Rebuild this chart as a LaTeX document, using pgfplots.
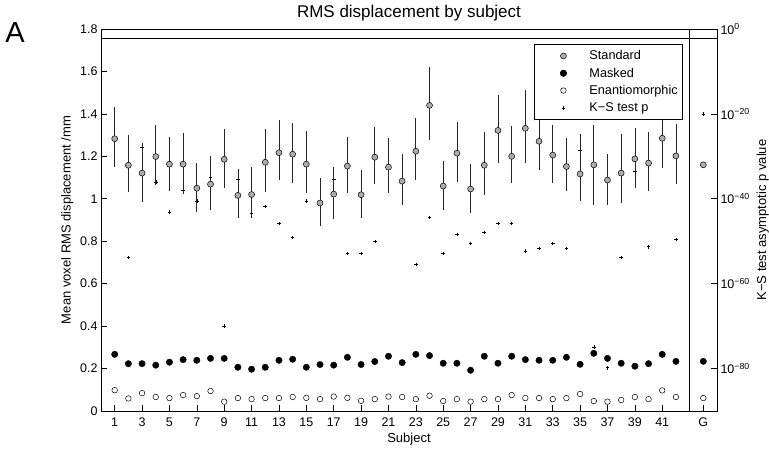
\documentclass[border=0pt]{standalone}
\usepackage{pgfplots}
\pgfplotsset{compat=1.18}
\usepackage{fontspec}
\setmainfont{Liberation Sans}
\definecolor{stdgray}{gray}{0.68}
\begin{document}
\begin{tikzpicture}
\path[use as bounding box] (-101pt,-39pt) rectangle (668pt,411pt);
% right (log) axis with K-S p values
\begin{axis}[
  at={(0pt,0pt)}, anchor=south west, scale only axis,
  width=616pt, height=382pt,
  xmin=0, xmax=45, hide x axis,
  ymode=log, ymin=1e-90, ymax=1,
  axis y line*=right, axis line style={-},
  ytick={1e-80,1e-60,1e-40,1e-20,1},
  yticklabels={10\textsuperscript{−80},10\textsuperscript{−60},10\textsuperscript{−40},10\textsuperscript{−20},10\textsuperscript{0}},
  minor ytick={},
  tick align=inside, major tick length=6pt,
  tick style={black, line width=0.6pt},
  ticklabel style={font=\fontsize{12.5}{14}\selectfont},
  ylabel={K−S test asymptotic p value},
  ylabel style={font=\fontsize{13}{15}\selectfont},
]
\addplot[only marks, mark=+, mark size=1.8pt, black, line width=0.5pt] coordinates {
(1,1.58e-26) (2,1.58e-54) (3,1.26e-28) (4,1e-36) (5,7.94e-44) (6,7.94e-39)
(7,3.16e-41) (8,1e-35) (9,1e-70) (10,3.98e-36) (11,5.01e-44) (12,1.58e-42)
(13,1.58e-46) (14,7.94e-50) (15,3.16e-41) (16,1.26e-41) (17,3.98e-36) (18,1.26e-53)
(19,1.26e-53) (20,7.94e-51) (21,3.98e-33) (22,2.0e-36) (23,3.16e-56) (24,3.98e-45)
(25,1.26e-53) (26,3.98e-49) (27,3.16e-51) (28,1.26e-48) (29,1.58e-46) (30,1.58e-46)
(31,5.01e-53) (32,2.0e-52) (33,3.16e-51) (34,2.0e-52) (35,3.16e-29) (36,1.26e-75)
(37,1.58e-80) (38,1.58e-54) (39,2.51e-34) (40,5.01e-52) (41,2.51e-77) (42,2.51e-50)
(44,1e-20)
};
\end{axis}
% left (linear) axis
\begin{axis}[
  at={(0pt,0pt)}, anchor=south west, scale only axis,
  width=616pt, height=382pt,
  xmin=0, xmax=45, ymin=0, ymax=1.8,
  xtick={1,3,5,7,9,11,13,15,17,19,21,23,25,27,29,31,33,35,37,39,41,44},
  xticklabels={1,3,5,7,9,11,13,15,17,19,21,23,25,27,29,31,33,35,37,39,41,G},
  ytick={0,0.2,0.4,0.6,0.8,1,1.2,1.4,1.6,1.8},
  xtick pos=bottom, ytick pos=left,
  tick align=inside, major tick length=6pt,
  tick style={black, line width=0.6pt},
  axis line style={black, line width=0.6pt},
  /pgf/number format/assume math mode=true,
  ticklabel style={font=\fontsize{12.5}{14}\selectfont},
  xticklabel style={yshift=-3pt},
  xlabel={Subject}, ylabel={Mean voxel RMS displacement /mm},
  label style={font=\fontsize{13}{15}\selectfont},
  title={RMS displacement by subject},
  title style={font=\fontsize{17}{19}\selectfont, yshift=-2pt},
  error bars/error bar style={line width=0.7pt, black!85},
  error bars/error mark=none,
  legend image code/.code={\path[draw=none,fill=none] (-24pt,-8.65pt) rectangle (12pt,8.65pt); \draw[#1] plot coordinates {(0pt,0pt)};},
  legend style={at={(rel axis cs:0.9448,0.9607)}, anchor=north east,
    draw=black, fill=white, line width=0.6pt,
    font=\fontsize{12.7}{14}\selectfont, legend cell align=left,
    inner xsep=5pt, inner ysep=3pt, row sep=0pt,
    nodes={inner sep=0pt},
    /tikz/every odd column/.append style={column sep=14pt}},
]
\draw[black, line width=0.6pt] (axis cs:43,0) -- (axis cs:43,1.8);
\draw[black, line width=0.6pt] (axis cs:0,1.757) -- (axis cs:45,1.757);
\addplot[only marks, mark=*, mark size=3pt, mark options={fill=stdgray, draw=black, line width=0.5pt},
  error bars/.cd, y dir=both, y explicit] coordinates {
(1,1.283) += (0,0.150) -= (0,0.131)
(2,1.158) += (0,0.141) -= (0,0.124)
(3,1.121) += (0,0.143) -= (0,0.135)
(4,1.199) += (0,0.148) -= (0,0.133)
(5,1.163) += (0,0.128) -= (0,0.125)
(6,1.163) += (0,0.148) -= (0,0.141)
(7,1.050) += (0,0.120) -= (0,0.114)
(8,1.069) += (0,0.133) -= (0,0.122)
(9,1.186) += (0,0.144) -= (0,0.133)
(10,1.016) += (0,0.126) -= (0,0.106)
(11,1.020) += (0,0.132) -= (0,0.110)
(12,1.172) += (0,0.158) -= (0,0.142)
(13,1.217) += (0,0.152) -= (0,0.129)
(14,1.210) += (0,0.148) -= (0,0.138)
(15,1.163) += (0,0.156) -= (0,0.138)
(16,0.980) += (0,0.117) -= (0,0.110)
(17,1.022) += (0,0.128) -= (0,0.117)
(18,1.154) += (0,0.139) -= (0,0.129)
(19,1.019) += (0,0.116) -= (0,0.109)
(20,1.196) += (0,0.142) -= (0,0.127)
(21,1.149) += (0,0.136) -= (0,0.124)
(22,1.083) += (0,0.130) -= (0,0.112)
(23,1.224) += (0,0.157) -= (0,0.136)
(24,1.440) += (0,0.181) -= (0,0.165)
(25,1.060) += (0,0.118) -= (0,0.113)
(26,1.215) += (0,0.148) -= (0,0.138)
(27,1.046) += (0,0.120) -= (0,0.115)
(28,1.158) += (0,0.158) -= (0,0.140)
(29,1.322) += (0,0.166) -= (0,0.152)
(30,1.200) += (0,0.143) -= (0,0.126)
(31,1.332) += (0,0.179) -= (0,0.162)
(32,1.271) += (0,0.145) -= (0,0.136)
(33,1.206) += (0,0.140) -= (0,0.132)
(34,1.152) += (0,0.136) -= (0,0.114)
(35,1.117) += (0,0.187) -= (0,0.126)
(36,1.160) += (0,0.187) -= (0,0.188)
(37,1.088) += (0,0.125) -= (0,0.116)
(38,1.121) += (0,0.183) -= (0,0.143)
(39,1.188) += (0,0.147) -= (0,0.139)
(40,1.168) += (0,0.148) -= (0,0.130)
(41,1.285) += (0,0.159) -= (0,0.138)
(42,1.202) += (0,0.149) -= (0,0.133)
(44,1.160) += (0,0.012) -= (0,0.012)
};
\addlegendentry{Standard}
\addplot[only marks, mark=*, mark size=3.2pt, mark options={fill=black, draw=black},
  error bars/.cd, y dir=both, y explicit] coordinates {
(1,0.267) +- (0,0.012) (2,0.223) +- (0,0.010) (3,0.223) +- (0,0.010) (4,0.216) +- (0,0.010)
(5,0.230) +- (0,0.010) (6,0.242) +- (0,0.010) (7,0.239) +- (0,0.010) (8,0.248) +- (0,0.010)
(9,0.248) +- (0,0.010) (10,0.206) +- (0,0.010) (11,0.197) +- (0,0.010) (12,0.206) +- (0,0.010)
(13,0.239) +- (0,0.010) (14,0.244) +- (0,0.010) (15,0.206) +- (0,0.010) (16,0.219) +- (0,0.010)
(17,0.216) +- (0,0.010) (18,0.253) +- (0,0.010) (19,0.219) +- (0,0.012) (20,0.233) +- (0,0.010)
(21,0.258) +- (0,0.014) (22,0.228) +- (0,0.010) (23,0.267) +- (0,0.010) (24,0.261) +- (0,0.010)
(25,0.225) +- (0,0.010) (26,0.225) +- (0,0.010) (27,0.192) +- (0,0.010) (28,0.258) +- (0,0.014)
(29,0.225) +- (0,0.010) (30,0.258) +- (0,0.010) (31,0.242) +- (0,0.012) (32,0.239) +- (0,0.010)
(33,0.239) +- (0,0.010) (34,0.253) +- (0,0.010) (35,0.220) +- (0,0.010) (36,0.272) +- (0,0.014)
(37,0.248) +- (0,0.010) (38,0.225) +- (0,0.010) (39,0.211) +- (0,0.010) (40,0.223) +- (0,0.010)
(41,0.267) +- (0,0.016) (42,0.234) +- (0,0.010) (44,0.234) +- (0,0.010)
};
\addlegendentry{Masked}
\addplot[only marks, mark=*, mark size=2.8pt, mark options={fill=white, draw=black, line width=0.5pt},
  error bars/.cd, y dir=both, y explicit] coordinates {
(1,0.098) +- (0,0.012) (2,0.059) +- (0,0.010) (3,0.084) +- (0,0.012) (4,0.066) +- (0,0.010)
(5,0.061) +- (0,0.010) (6,0.075) +- (0,0.010) (7,0.070) +- (0,0.010) (8,0.094) +- (0,0.012)
(9,0.044) +- (0,0.010) (10,0.061) +- (0,0.010) (11,0.056) +- (0,0.010) (12,0.061) +- (0,0.010)
(13,0.061) +- (0,0.010) (14,0.066) +- (0,0.010) (15,0.062) +- (0,0.010) (16,0.056) +- (0,0.010)
(17,0.068) +- (0,0.010) (18,0.062) +- (0,0.010) (19,0.048) +- (0,0.010) (20,0.056) +- (0,0.010)
(21,0.068) +- (0,0.010) (22,0.066) +- (0,0.010) (23,0.056) +- (0,0.010) (24,0.072) +- (0,0.010)
(25,0.047) +- (0,0.010) (26,0.056) +- (0,0.010) (27,0.044) +- (0,0.010) (28,0.056) +- (0,0.010)
(29,0.056) +- (0,0.010) (30,0.075) +- (0,0.010) (31,0.061) +- (0,0.010) (32,0.061) +- (0,0.010)
(33,0.056) +- (0,0.010) (34,0.061) +- (0,0.010) (35,0.080) +- (0,0.012) (36,0.047) +- (0,0.010)
(37,0.044) +- (0,0.010) (38,0.052) +- (0,0.010) (39,0.066) +- (0,0.010) (40,0.056) +- (0,0.010)
(41,0.097) +- (0,0.012) (42,0.066) +- (0,0.010) (44,0.061) +- (0,0.010)
};
\addlegendentry{Enantiomorphic}
\addlegendimage{only marks, mark=+, mark size=1.8pt, black, line width=0.5pt}
\addlegendentry{K−S test p}
\end{axis}
\node[font=\fontsize{29}{31}\selectfont] at (-86pt,378pt) {A};
\end{tikzpicture}
\end{document}
